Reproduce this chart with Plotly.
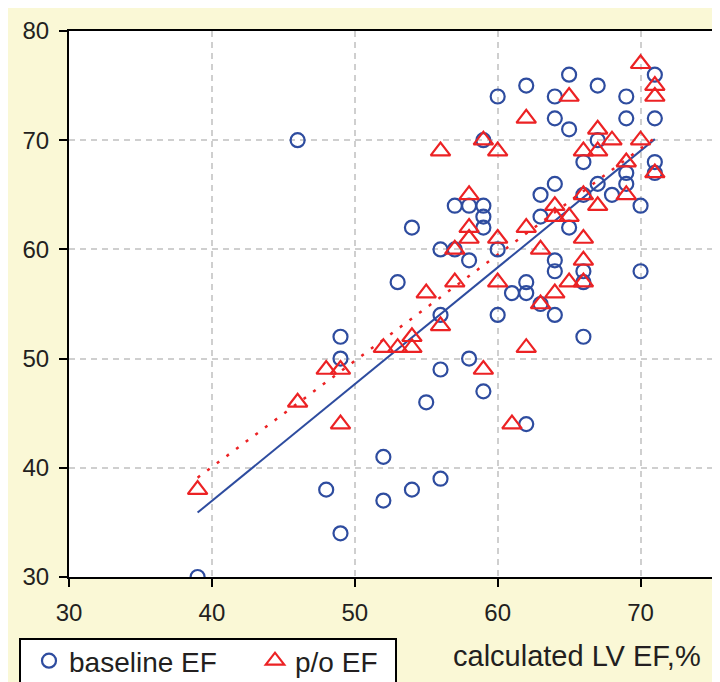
import plotly.graph_objects as go

# ---- data ----
baseline_x = [39, 46, 48, 49, 49, 49, 52, 52, 53, 54, 54, 55, 56, 56, 56, 56,
              57, 57, 58, 58, 58, 59, 59, 59, 59, 59, 60, 60, 60, 61,
              62, 62, 62, 62, 63, 63, 63, 64, 64, 64, 64, 64, 64,
              65, 65, 65, 66, 66, 66, 66, 66, 67, 67, 67, 68,
              69, 69, 69, 69, 70, 70, 71, 71, 71, 71]
baseline_y = [30, 70, 38, 52, 50, 34, 41, 37, 57, 62, 38, 46, 60, 54, 49, 39,
              64, 60, 64, 59, 50, 70, 64, 63, 62, 47, 74, 60, 54, 56,
              75, 57, 56, 44, 65, 63, 55, 74, 72, 66, 59, 58, 54,
              76, 71, 62, 68, 65, 58, 57, 52, 75, 70, 66, 65,
              74, 72, 67, 66, 64, 58, 76, 72, 68, 67]

po_x = [39, 46, 48, 49, 49, 52, 53, 54, 54, 55, 56, 56, 57, 57,
        58, 58, 58, 59, 59, 60, 60, 60, 61, 62, 62, 62, 63, 63,
        64, 64, 64, 65, 65, 65, 66, 66, 66, 66, 66, 67, 67, 67,
        68, 69, 69, 70, 70, 71, 71, 71]
po_y = [38, 46, 49, 49, 44, 51, 51, 52, 51, 56, 69, 53, 60, 57,
        65, 62, 61, 70, 49, 69, 61, 57, 44, 72, 62, 51, 60, 55,
        64, 63, 56, 74, 63, 57, 69, 65, 61, 59, 57, 71, 69, 64,
        70, 68, 65, 77, 70, 75, 74, 67]

trend_x = [39, 71]
baseline_trend = [35.9, 70.1]
po_trend = [39.1, 70.2]

x_ticks = [30, 40, 50, 60, 70]
y_ticks = [30, 40, 50, 60, 70, 80]

BLUE = "#2E4C9F"
RED = "#EC2224"
TXT = "#231F20"
FONT = "Liberation Sans, Arial, sans-serif"

fig = go.Figure()
fig.add_trace(go.Scatter(x=trend_x, y=baseline_trend, mode="lines",
                         line=dict(color=BLUE, width=2), showlegend=False,
                         hoverinfo="skip"))
fig.add_trace(go.Scatter(x=trend_x, y=po_trend, mode="lines",
                         line=dict(color=RED, width=2.5, dash="3px,9px"),
                         showlegend=False, hoverinfo="skip"))
fig.add_trace(go.Scatter(x=baseline_x, y=baseline_y, mode="markers",
                         name="baseline EF",
                         marker=dict(symbol="circle-open", size=14,
                                     color=BLUE, line=dict(width=2.2, color=BLUE))))
fig.add_trace(go.Scatter(x=po_x, y=po_y, mode="markers", name="p/o EF",
                         marker=dict(symbol="triangle-up-open", size=17,
                                     color=RED, line=dict(width=2.2, color=RED))))

# page has an 8px body margin; the figure fills the rest of the window
W, H = 712, 674
L, R, T, B = 61, 8, 23, 105
pw, ph = W - L - R, H - T - B

def px2x(px):
    return (px - L) / pw

def py2y(py):
    return (H - B - py) / ph

axis_common = dict(
    showline=True, linecolor="black", linewidth=2, mirror=True,
    ticks="outside", ticklen=8, tickwidth=1.5, tickcolor="black",
    showgrid=True, gridcolor="#CFCFCF", gridwidth=1.5, griddash="6px,5px",
    zeroline=False, tickfont=dict(family=FONT, size=24, color=TXT),
)

fig.update_xaxes(range=[30, 75], tickvals=x_ticks, ticklabelstandoff=5,
                 **axis_common)
fig.update_yaxes(range=[30, 80], tickvals=y_ticks, ticklabelstandoff=5,
                 **axis_common)

fig.update_layout(
    width=W, height=H,
    margin=dict(l=L, r=R, t=T, b=B, autoexpand=False),
    paper_bgcolor="#FAF8D6",
    plot_bgcolor="white",
    font=dict(family=FONT, color=TXT),
    legend=dict(orientation="h", x=px2x(21), y=py2y(628),
                xanchor="left", yanchor="top",
                bgcolor="rgba(0,0,0,0)", borderwidth=0,
                font=dict(family=FONT, size=28, color=TXT),
                entrywidth=181, entrywidthmode="pixels"),
    shapes=[
        dict(type="rect", xref="paper", yref="paper",
             x0=px2x(12), x1=px2x(388), y0=py2y(H + 10), y1=py2y(631),
             fillcolor="white", line=dict(width=2, color="black"),
             layer="above"),
    ],
    annotations=[
        dict(text="calculated LV EF,%", xref="paper", yref="paper",
             x=px2x(695), y=py2y(648), xanchor="right", yanchor="middle",
             showarrow=False, font=dict(family=FONT, size=29, color=TXT)),
    ],
)

fig.write_html("out.html")
